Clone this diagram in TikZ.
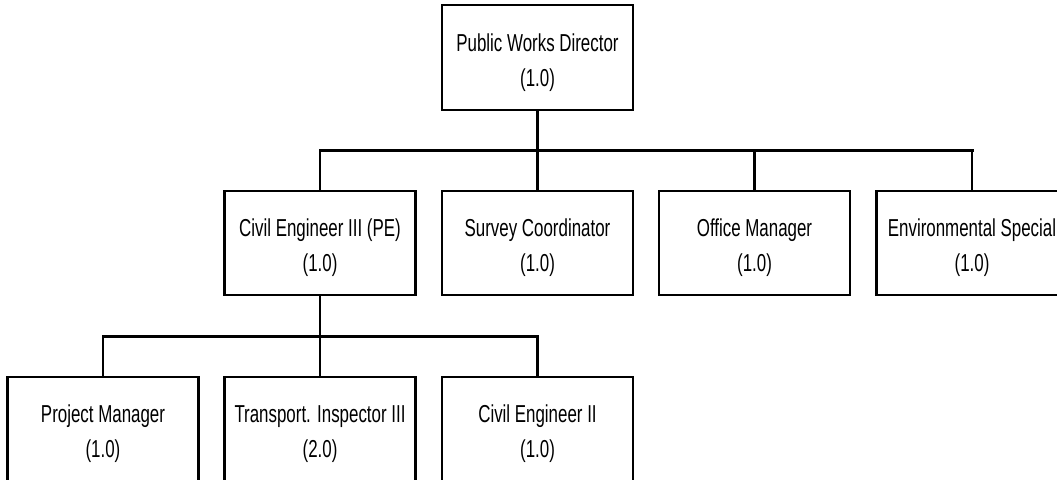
\documentclass[tikz,border=0pt]{standalone}
\usepackage{fontspec}
\setmainfont{Liberation Sans}[FakeStretch=0.69]
\newcommand{\twolines}[2]{\raisebox{-4pt}[\height][\depth]{\begin{tabular}{@{}c@{}}#1\\#2\end{tabular}}}
\begin{document}
\begin{tikzpicture}[x=1pt,y=-1pt,
  box/.style={draw=black, line width=2.4pt, rectangle, minimum width=191pt, minimum height=104pt,
    inner sep=0pt, align=center, font=\fontsize{24.5}{35}\selectfont},
  conn/.style={draw=black, line width=2.2pt},
  bus/.style={draw=black, line width=3pt, line cap=rect}]
\useasboundingbox (0,0) rectangle (1057,479);
\clip (0,0) rectangle (1057,479);
\node[box, minimum height=105pt] (pwd) at (537.5,57.5) {\twolines{Public Works Director}{(1.0)}};
\node[box] (ce3) at (320,243) {\twolines{Civil Engineer III (PE)}{(1.0)}};
\node[box] (sc) at (537.5,243) {\twolines{Survey Coordinator}{(1.0)}};
\node[box] (om) at (754.5,243) {\twolines{Office Manager}{(1.0)}};
\node[box] (env) at (972,243) {\twolines{Environmental Special}{(1.0)}};
\node[box] (pm) at (103,429) {\twolines{Project Manager}{(1.0)}};
\node[box] (ti) at (320,429) {\twolines{Transport. Inspector III}{(2.0)}};
\node[box] (ce2) at (537.5,429) {\twolines{Civil Engineer II}{(1.0)}};
\coordinate (b1) at (537.5,150.7);
\coordinate (b2) at (320,336);
\draw[conn] (pwd.south) -- (b1);
\draw[bus] (ce3.north |- b1) -- (env.north |- b1);
\foreach \n in {ce3,sc,om,env} \draw[conn] (\n.north |- b1) -- (\n.north);
\draw[conn] (ce3.south) -- (b2);
\draw[bus] (pm.north |- b2) -- (ce2.north |- b2);
\foreach \n in {pm,ti,ce2} \draw[conn] (\n.north |- b2) -- (\n.north);
\end{tikzpicture}
\end{document}
